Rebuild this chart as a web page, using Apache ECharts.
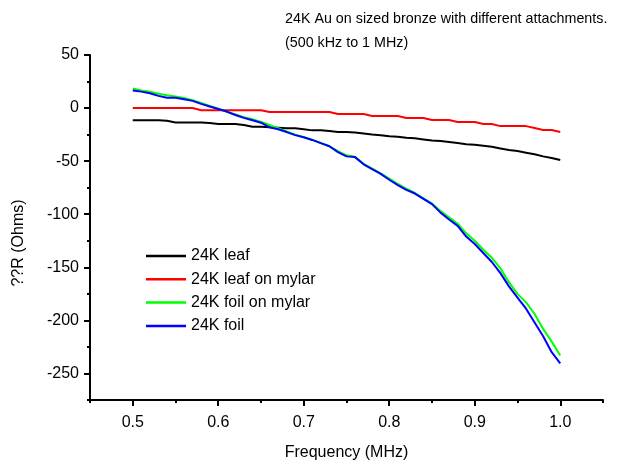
<!DOCTYPE html>
<html>
<head>
<meta charset="utf-8">
<script src="https://cdn.jsdelivr.net/npm/echarts@6/dist/echarts.min.js"></script>
<style>html,body{margin:0;padding:0;background:#fff}#c{width:624px;height:468px}</style>
</head>
<body>
<div id="c"></div>
<script>
const freq = [0.50,0.51,0.52,0.53,0.54,0.55,0.56,0.57,0.58,0.59,0.60,0.61,0.62,0.63,0.64,0.65,0.66,0.67,0.68,0.69,0.70,0.71,0.72,0.73,0.74,0.75,0.76,0.77,0.78,0.79,0.80,0.81,0.82,0.83,0.84,0.85,0.86,0.87,0.88,0.89,0.90,0.91,0.92,0.93,0.94,0.95,0.96,0.97,0.98,0.99,1.00];
const leaf = [-11.5,-11.5,-11.5,-11.5,-12,-13.5,-13.5,-13.5,-13.5,-14,-15,-15,-15,-16,-17.5,-17.5,-18,-18.5,-19,-19,-20,-21,-21,-21.5,-22.5,-22.5,-23,-24,-25,-25.5,-26.5,-27,-28,-28.5,-29.5,-30.5,-31,-32,-33,-34,-34.5,-35.5,-36.5,-38,-39.5,-40.5,-42,-43.5,-45.5,-47,-49];
const leafMylar = [0,0,0,0,0,0,0,0,-2,-2,-2,-2,-2,-2,-2,-2,-3.7,-3.7,-3.7,-3.7,-3.7,-3.7,-3.7,-3.7,-5.6,-5.6,-5.6,-5.6,-7.5,-7.5,-7.5,-7.5,-9.4,-9.4,-9.4,-11.3,-11.3,-11.3,-13.2,-13.2,-13.2,-15,-15,-17,-17,-17,-17,-18.8,-20.7,-20.7,-22.6];
const foilMylar = [18.5,16.5,15.5,13.5,12,11,9.5,7.5,4.8,2,-0.5,-3.5,-6,-8.5,-10.5,-13,-16,-19,-22,-25,-27.5,-30,-33,-36,-40.5,-44.5,-46,-52.5,-57,-61.5,-66.5,-71.5,-76,-80,-85,-90,-97,-103,-109,-118,-125,-133.5,-141,-151,-164,-175,-183,-194,-208,-220,-233];
const foil = [16.6,15.5,14,11.5,9.8,9.8,8.3,6.8,4,1.5,-0.8,-3.3,-6.5,-9.2,-11.5,-13.8,-18.2,-20,-22.6,-25.5,-27.5,-30,-33,-36,-41.5,-45.5,-46.2,-53,-57.5,-62,-67.5,-72.5,-77,-80.5,-85.5,-90.5,-98.5,-105,-111,-121,-128,-136.5,-145,-155.5,-168,-178.5,-189,-202,-215,-230,-240.5];
const seriesNames = ['24K leaf','24K leaf on mylar','24K foil on mylar','24K foil'];
const xMajor = [0.5,0.6,0.7,0.8,0.9,1.0];
const xMinor = [0.45,0.55,0.65,0.75,0.85,0.95,1.05];
const yMajor = [50,0,-50,-100,-150,-200,-250];
const yMinor = [25,-25,-75,-125,-175,-225,-275];
const titleLines = ['24K Au on sized bronze with different attachments.','(500 kHz to 1 MHz)'];
const xTitle = 'Frequency (MHz)';
const yTitle = '??R (Ohms)';

const FONT = 'Liberation Sans, Arial, sans-serif';
const chart = echarts.init(document.getElementById('c'), null, {renderer:'canvas'});
const pair = ys => freq.map((f,i)=>[f, ys[i]]);
const colors = ['#000000','#ff0000','#00ff00','#0000ff'];
const datas = [leaf, leafMylar, foilMylar, foil];
const axisLineStyle = {color:'#000', width:2};
chart.setOption({
  animation:false,
  backgroundColor:'#fff',
  title:{
    text: titleLines.join('\n'), left:285, top:7, padding:0,
    textStyle:{fontFamily:FONT, fontSize:14.3, fontWeight:'normal', color:'#000', lineHeight:24}
  },
  legend:{
    orient:'vertical', left:146, top:247, padding:0, itemWidth:40, itemHeight:2.5, itemGap:5.3,
    icon:'rect',
    textStyle:{fontFamily:FONT, fontSize:16, color:'#000', lineHeight:18},
    data: seriesNames
  },
  grid:{left:90, right:21, top:55, bottom:68, containLabel:false},
  graphic:[{
    type:'text', x:19, y:243, rotation:Math.PI/2,
    style:{text:yTitle, font:'16px Liberation Sans, Arial, sans-serif', fill:'#000', align:'center', verticalAlign:'middle'}
  }],
  xAxis:[{
    type:'value', min:0.45, max:1.05,
    name:xTitle, nameLocation:'middle', nameGap:45,
    nameTextStyle:{fontFamily:FONT, fontSize:16, color:'#000'},
    axisLine:{show:true, onZero:false, lineStyle:axisLineStyle},
    axisTick:{show:true, inside:false, length:6, lineStyle:{color:'#000', width:2}, customValues:xMajor},
    axisLabel:{fontFamily:FONT, fontSize:16, color:'#000', margin:15, customValues:xMajor, formatter:v=>v.toFixed(1)},
    splitLine:{show:false}
  },{
    type:'value', min:0.45, max:1.05, position:'bottom',
    axisLine:{show:false, onZero:false},
    axisTick:{show:true, length:3, lineStyle:{color:'#000', width:2}, customValues:xMinor},
    axisLabel:{show:false}, splitLine:{show:false}
  }],
  yAxis:[{
    type:'value', min:-275, max:50,
    axisLine:{show:true, onZero:false, lineStyle:axisLineStyle},
    axisTick:{show:true, length:6, lineStyle:{color:'#000', width:2}, customValues:yMajor},
    axisLabel:{fontFamily:FONT, fontSize:16, color:'#000', margin:11, customValues:yMajor},
    splitLine:{show:false}
  },{
    type:'value', min:-275, max:50, position:'left',
    axisLine:{show:false, onZero:false},
    axisTick:{show:true, length:3, lineStyle:{color:'#000', width:2}, customValues:yMinor},
    axisLabel:{show:false}, splitLine:{show:false}
  }],
  series: datas.map((d,i)=>({
    name: seriesNames[i], type:'line', data: pair(d), xAxisIndex:0, yAxisIndex:0,
    symbol:'none', showSymbol:false, smooth:false,
    lineStyle:{color:colors[i], width:2}, itemStyle:{color:colors[i]}
  }))
});
</script>
</body>
</html>
